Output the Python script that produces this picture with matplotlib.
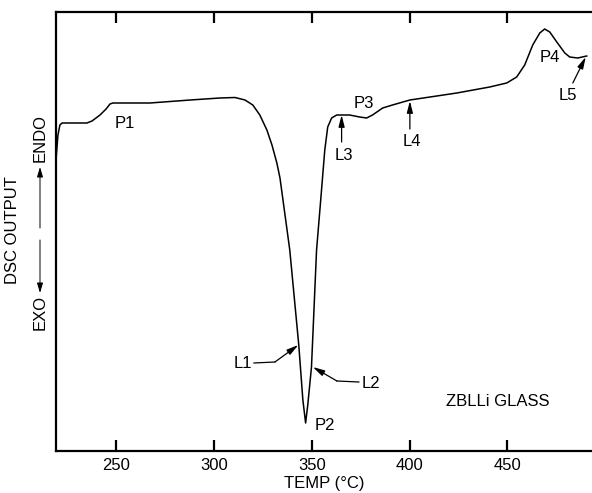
import matplotlib
matplotlib.use("Agg")
import matplotlib.pyplot as plt

plt.rcParams['font.family'] = ['Liberation Sans', 'DejaVu Sans']

# DSC trace (temperature in degC, output in arbitrary units)
temp = [219.2, 220.2, 221.2, 222.3, 235.0, 237.6, 241.7, 244.8, 246.8, 248.3,
        267.2, 287.8, 303.0, 310.7, 315.8, 319.8, 323.4, 327.0, 329.6, 332.1,
        333.7, 338.7, 343.3, 345.4, 346.8, 347.9, 349.8, 352.4, 354.6, 356.6,
        358.1, 360.1, 362.7, 369.3, 374.4, 378.0, 381.0, 386.2, 391.2, 400.1,
        424.1, 440.9, 449.6, 454.7, 458.8, 462.9, 466.5, 469.0, 471.6, 475.2,
        479.3, 481.8, 485.9, 490.5]
dsc = [291, 316, 326, 328, 328, 330, 336, 342, 347, 348,
       348, 351, 353, 353.5, 351, 346, 336, 321, 306, 288,
       273, 201, 106, 51, 28, 46, 84, 201, 253, 301,
       324, 333, 336, 336, 334, 333, 336, 343, 346, 351,
       358, 364, 368, 374, 386, 406, 418, 422, 419, 409,
       398, 394, 393, 395]

xticks = [250, 300, 350, 400, 450]
xticklabels = ['250', '300', '350', '400', '450']

peak_labels = ['P1', 'P2', 'P3', 'P4']
peak_pos = [(254.5, 328), (356.8, 26), (376.6, 347), (471.6, 394)]

fig = plt.figure(figsize=(5.92, 4.93), dpi=100)
ax = fig.add_axes([56/592, 42/493, 1 - 56/592, (451 - 12)/493])

ax.plot(temp, dsc, color='black', lw=1.1, solid_joinstyle='round')
ax.set_xlim(219.2, 493.2)
ax.set_ylim(0, 439)

for s in ['left', 'bottom', 'top']:
    ax.spines[s].set_linewidth(1.6)
ax.spines['right'].set_visible(False)

ax.set_xticks(xticks)
ax.set_xticklabels(xticklabels, fontsize=12)
ax.tick_params(axis='x', direction='in', length=8, width=1.6, top=True,
               labeltop=False, pad=5)
ax.set_yticks([])
ax.set_xlabel('TEMP (°C)', fontsize=12, labelpad=2)

for lab, (x, y) in zip(peak_labels, peak_pos):
    ax.text(x, y, lab, fontsize=12, ha='center', va='center')

ax.text(445, 49, 'ZBLLi GLASS', fontsize=12, ha='center', va='center')

arrow = dict(arrowstyle='-|>,head_length=0.7,head_width=0.18', color='black',
             lw=0.9, shrinkA=0, shrinkB=0)

# L3, L4, L5
ax.text(366.4, 296, 'L3', fontsize=12, ha='center', va='center')
ax.annotate('', xy=(365.2, 336), xytext=(365.2, 309), arrowprops=arrow)
ax.text(401.1, 309, 'L4', fontsize=12, ha='center', va='center')
ax.annotate('', xy=(400.1, 350), xytext=(400.1, 322), arrowprops=arrow)
ax.text(480.7, 356, 'L5', fontsize=12, ha='center', va='center')
ax.annotate('', xy=(490.0, 394), xytext=(483.4, 368), arrowprops=arrow)

# L1, L2 with leaders
ax.text(314.7, 88, 'L1', fontsize=12, ha='center', va='center')
ax.plot([320.4, 331.1], [88, 89], color='black', lw=0.9)
ax.annotate('', xy=(343.1, 106), xytext=(331.1, 89), arrowprops=arrow)
ax.text(380.1, 68, 'L2', fontsize=12, ha='center', va='center')
ax.plot([374.0, 362.8], [69, 70], color='black', lw=0.9)
ax.annotate('', xy=(350.5, 84), xytext=(362.8, 70), arrowprops=arrow)

# Y label with ENDO / EXO arrows
fig.text(13/592, 1 - 230/493, 'DSC OUTPUT', rotation=90, fontsize=12,
         ha='center', va='center')
fig.text(40/592, 1 - 138/493, 'ENDO', rotation=90, fontsize=12,
         ha='center', va='center')
fig.text(40/592, 1 - 312/493, 'EXO', rotation=90, fontsize=12,
         ha='center', va='center')
farrow = dict(arrowstyle='-|>,head_length=0.6,head_width=0.18', color='black',
              lw=0.7, shrinkA=0, shrinkB=0)
ax.annotate('', xy=(40/592, 1 - 167/493), xytext=(40/592, 1 - 228/493),
            xycoords='figure fraction', textcoords='figure fraction',
            arrowprops=farrow)
ax.annotate('', xy=(40/592, 1 - 293/493), xytext=(40/592, 1 - 240/493),
            xycoords='figure fraction', textcoords='figure fraction',
            arrowprops=farrow)

fig.savefig('out.png', dpi=100)
